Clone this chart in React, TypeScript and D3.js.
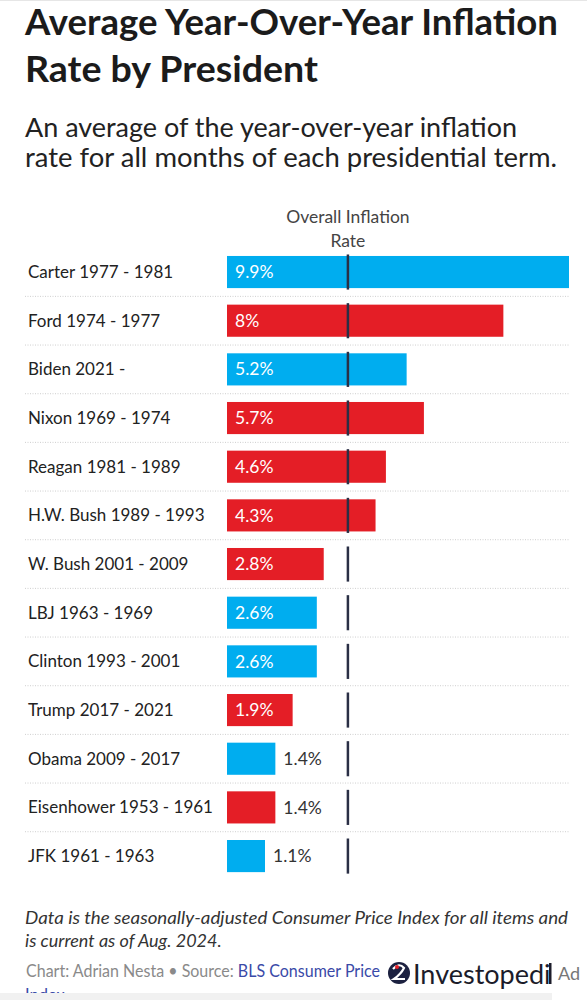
import React from "react";
import * as d3 from "d3";

const presidents = [
  "Carter 1977 - 1981",
  "Ford 1974 - 1977",
  "Biden 2021 -",
  "Nixon 1969 - 1974",
  "Reagan 1981 - 1989",
  "H.W. Bush 1989 - 1993",
  "W. Bush 2001 - 2009",
  "LBJ 1963 - 1969",
  "Clinton 1993 - 2001",
  "Trump 2017 - 2021",
  "Obama 2009 - 2017",
  "Eisenhower 1953 - 1961",
  "JFK 1961 - 1963",
];
const inflation = [9.9, 8, 5.2, 5.7, 4.6, 4.3, 2.8, 2.6, 2.6, 1.9, 1.4, 1.4, 1.1];
const parties = ["D", "R", "D", "R", "R", "R", "R", "D", "D", "R", "D", "R", "D"];
const overallRate = 3.5;

const W = 587;
const H = 1000;
const FONT = "Lato, 'Noto Sans', sans-serif";
const BLUE = "#00adef";
const RED = "#e41e26";
const LINE = "#2a2f45";

export default function App() {
  const x = d3.scaleLinear().domain([0, 9.9]).range([227, 569]);
  const y = d3
    .scaleBand<string>()
    .domain(presidents)
    .range([247.7, 880.4])
    .paddingInner(0.34)
    .paddingOuter(0.17);
  const bw = y.bandwidth();
  const step = y.step();

  return (
    <svg
      width={W}
      height={H}
      style={{ position: "absolute", top: 0, left: 0, background: "#fff" }}
      fontFamily={FONT}
    >
      <defs>
        <clipPath id="logoClip">
          <rect x={380} y={950} width={172} height={50} />
        </clipPath>
      </defs>
      <rect x={0} y={0} width={W} height={H} fill="#fff" />
      <line x1={0} x2={W} y1={0.5} y2={0.5} stroke="#e6e6e6" />
      {/* Title */}
      <text x={25} y={35} fontSize={36} fontWeight={700} fill="#1b1b1b" textLength={533} lengthAdjust="spacingAndGlyphs">
        Average Year-Over-Year Inflation
      </text>
      <text x={25} y={82} fontSize={36} fontWeight={700} fill="#1b1b1b" textLength={293} lengthAdjust="spacingAndGlyphs">
        Rate by President
      </text>
      {/* Subtitle */}
      <text x={25} y={137} fontSize={27.5} fill="#222" textLength={492} lengthAdjust="spacingAndGlyphs">
        An average of the year-over-year inflation
      </text>
      <text x={25} y={167} fontSize={27.5} fill="#222" textLength={532} lengthAdjust="spacingAndGlyphs">
        rate for all months of each presidential term.
      </text>
      {/* Column header */}
      <text x={x(overallRate)} y={223} fontSize={17.5} fill="#444" textAnchor="middle">
        Overall Inflation
      </text>
      <text x={x(overallRate)} y={247} fontSize={17.5} fill="#444" textAnchor="middle">
        Rate
      </text>

      {/* separators */}
      {presidents.slice(0, -1).map((p) => {
        const sy = (y(p) as number) + bw + (step - bw) / 2;
        return (
          <line
            key={"s" + p}
            x1={25}
            x2={569}
            y1={sy}
            y2={sy}
            stroke="#cfcfcf"
            strokeDasharray="1,1.5"
          />
        );
      })}

      {presidents.map((p, i) => {
        const top = y(p) as number;
        const cy = top + bw / 2;
        const v = inflation[i];
        const wBar = x(v) - x(0);
        const inside = wBar > 55;
        return (
          <g key={p}>
            <text x={28} y={cy} dy="0.35em" fontSize={17} fill="#222">
              {p}
            </text>
            <rect
              x={x(0)}
              y={top}
              width={wBar}
              height={bw}
              fill={parties[i] === "D" ? BLUE : RED}
            />
            <text
              x={inside ? x(0) + 8 : x(v) + 8}
              y={cy}
              dy="0.35em"
              fontSize={17.5}
              fill={inside ? "#fff" : "#333"}
            >
              {`${v}%`}
            </text>
            <line
              x1={x(overallRate)}
              x2={x(overallRate)}
              y1={top - 1.5}
              y2={top + bw + 1.5}
              stroke={LINE}
              strokeWidth={2.5}
            />
          </g>
        );
      })}

      {/* Notes */}
      <text x={25} y={924} fontSize={18} fontStyle="italic" fill="#333" textLength={543} lengthAdjust="spacingAndGlyphs">
        Data is the seasonally-adjusted Consumer Price Index for all items and
      </text>
      <text x={25} y={947} fontSize={18} fontStyle="italic" fill="#333">
        is current as of Aug. 2024.
      </text>
      <text x={26} y={977} fontSize={16.5} fill="#8a8a8a" textLength={354} lengthAdjust="spacingAndGlyphs">
        Chart: Adrian Nesta • Source: <tspan fill="#3a4aa8">BLS Consumer Price</tspan>
      </text>
      <text x={25} y={1001} fontSize={16.5} fill="#3a4aa8">
        Index
      </text>
      <rect x={0} y={993} width={552} height={7} fill="#f1f1f1" />

      {/* logo */}
      <circle cx={399} cy={973} r={11} fill="#1c2140" />
      <path d="M393,969 Q399,962 404,968 Q401,974 394,979 L405,979" fill="none" stroke="#fff" strokeWidth={2.2} />
      <circle cx={397} cy={967} r={2} fill="#e41e26" />
      <text x={413} y={984} fontSize={27} fill="#1c1c2a">
        Investopedi
      </text>
      <rect x={549} y={963} width={2.5} height={21} fill="#1c1c2a" clipPath="url(#logoClip)" />
      <text x={558} y={980} fontSize={18} fill="#777">
        Ad
      </text>
    </svg>
  );
}
